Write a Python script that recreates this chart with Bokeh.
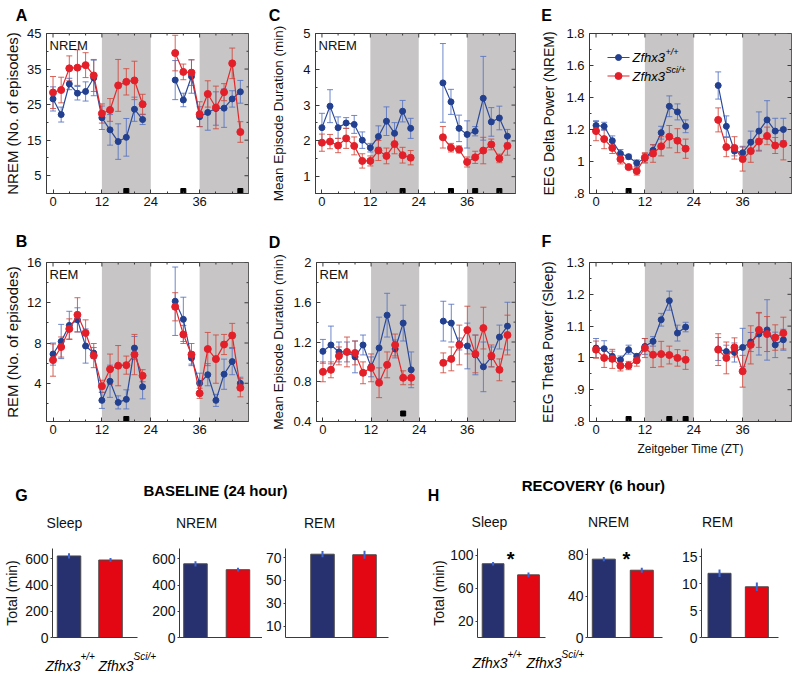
import math
from bokeh.plotting import figure
from bokeh.models import (Range1d, BoxAnnotation, Whisker, TeeHead,
                          ColumnDataSource, Label, FixedTicker)
from bokeh.layouts import row, column
from bokeh.embed import file_html
from bokeh.resources import INLINE

FONT = "Liberation Sans"
AXC = "#3a3a3a"
SHADE = "#c7c5c5"
BLUE_LINE = "#2c4a9a"; BLUE_MK = "#22408f"; BLUE_ERR = "#5673c2"
RED_LINE = "#e2282c"; RED_MK = "#e3202a"; RED_ERR = "#cf4a3e"
BAR_BLUE = "#28316f"; BAR_RED = "#e30613"; BAR_ERR = "#3d63cf"

# ---------------- data ----------------
zt = [0, 2, 4, 6, 8, 10, 12, 14, 16, 18, 20, 22, 30, 32, 34, 36, 38, 40, 42, 44, 46]
dark_start = [12, 36]
dark_end = [24, 48]
xticks = [0, 12, 24, 36]
xminor = [4, 8, 16, 20, 28, 32, 40, 44]

# A: NREM number of episodes
nrem_n_wt = [26.6, 22.2, 30.8, 28.2, 28.7, 32.5, 21.3, 17.9, 14.6, 15.8, 23.7, 20.8,
             31.9, 26.3, 32.9, 21.6, 22.8, 23.9, 24.0, 26.6, 28.6]
nrem_n_wt_err = [3.4, 2.1, 1.6, 1.9, 2.7, 5.0, 3.3, 4.3, 5.0, 5.3, 3.4, 1.4,
                 5.5, 1.9, 4.7, 2.8, 5.0, 4.7, 5.4, 2.3, 3.2]
nrem_n_sci = [28.4, 29.1, 35.2, 35.4, 36.1, 33.2, 22.5, 23.5, 30.4, 31.4, 31.8, 25.1,
              39.5, 34.2, 34.0, 22.3, 28.0, 24.2, 28.5, 36.6, 17.3]
nrem_n_sci_err = [4.5, 3.6, 3.5, 5.0, 3.5, 4.5, 2.7, 3.2, 7.3, 3.7, 5.4, 2.8,
                  5.0, 2.2, 3.6, 3.5, 3.7, 6.0, 2.4, 4.3, 2.9]
sig_a = [18, 32, 46]

# B: REM number of episodes
rem_n_wt = [6.9, 8.15, 9.75, 10.3, 7.7, 7.0, 2.3, 4.2, 2.1, 2.4, 7.5, 3.65,
            12.15, 10.35, 6.5, 4.0, 4.85, 2.3, 4.9, 6.15, 4.0]
rem_n_wt_err = [1.1, 1.7, 1.4, 1.2, 1.7, 0.55, 0.8, 1.6, 0.65, 0.95, 1.15, 1.2,
                3.4, 2.2, 0.6, 1.0, 1.1, 0.6, 1.5, 1.3, 0.6]
rem_n_sci = [6.3, 7.6, 9.4, 10.8, 9.0, 6.75, 3.7, 5.4, 5.75, 5.8, 6.85, 4.75,
             11.6, 8.85, 6.85, 3.0, 7.4, 6.4, 7.85, 8.75, 3.55]
rem_n_sci_err = [1.6, 1.0, 1.0, 1.7, 1.3, 1.2, 0.6, 1.5, 2.0, 0.9, 2.0, 0.6,
                 1.4, 0.9, 1.1, 0.5, 1.65, 2.4, 1.0, 1.2, 0.9]
sig_b = [18]

# C: NREM mean episode duration (min)
nrem_d_wt = [2.37, 2.97, 2.37, 2.5, 2.46, 2.02, 1.81, 2.12, 2.55, 2.21, 2.83, 2.35,
             3.62, 3.09, 2.35, 2.18, 2.27, 3.19, 2.53, 2.64, 2.13]
nrem_d_wt_err = [0.4, 0.46, 0.3, 0.15, 0.25, 0.23, 0.12, 0.3, 0.4, 0.3, 0.3, 0.28,
                 1.1, 0.35, 0.37, 0.38, 0.13, 1.17, 0.4, 0.33, 0.19]
nrem_d_sci = [1.95, 1.98, 1.87, 2.07, 1.86, 1.44, 1.44, 1.73, 1.58, 1.91, 1.6, 1.53,
              2.1, 1.81, 1.76, 1.41, 1.54, 1.73, 1.9, 1.51, 1.86]
nrem_d_sci_err = [0.24, 0.2, 0.2, 0.28, 0.25, 0.2, 0.14, 0.28, 0.22, 0.27, 0.22, 0.2,
                  0.3, 0.12, 0.1, 0.14, 0.17, 0.37, 0.15, 0.12, 0.26]
sig_c = [20, 32, 38, 44]

# D: REM mean episode duration (min)
rem_d_wt = [1.106, 1.17, 1.1, 1.1, 1.05, 1.17, 0.95, 1.14, 1.47, 1.13, 1.39, 0.92,
            1.41, 1.39, 1.18, 1.16, 1.07, 0.95, 1.05, 1.25, 1.36]
rem_d_wt_err = [0.12, 0.19, 0.1, 0.1, 0.16, 0.1, 0.1, 0.31, 0.22, 0.09, 0.18, 0.18,
                0.2, 0.19, 0.06, 0.23, 0.2, 0.25, 0.1, 0.12, 0.24]
rem_d_sci = [0.9, 0.92, 1.06, 1.1, 1.09, 0.89, 0.94, 0.79, 0.97, 1.17, 0.84, 0.84,
             0.99, 1.03, 1.17, 1.32, 1.08, 1.34, 1.06, 0.92, 1.27]
rem_d_sci_err = [0.1, 0.08, 0.09, 0.15, 0.12, 0.11, 0.14, 0.15, 0.13, 0.11, 0.07, 0.07,
                 0.1, 0.12, 0.2, 0.24, 0.19, 0.21, 0.11, 0.11, 0.2]
sig_d = [20]

# E: EEG delta power (NREM)
delta_wt = [1.225, 1.22, 1.13, 1.05, 1.03, 0.99, 1.02, 1.07, 1.18, 1.345, 1.31, 1.22,
            1.475, 1.22, 1.065, 1.055, 1.12, 1.19, 1.26, 1.19, 1.2]
delta_wt_err = [0.03, 0.025, 0.03, 0.025, 0.015, 0.02, 0.03, 0.035, 0.04, 0.065, 0.05, 0.04,
                0.085, 0.065, 0.03, 0.04, 0.07, 0.12, 0.12, 0.08, 0.07]
delta_sci = [1.19, 1.14, 1.085, 1.015, 0.965, 0.94, 1.025, 1.05, 1.095, 1.155, 1.13, 1.08,
             1.26, 1.09, 1.085, 1.015, 1.065, 1.125, 1.16, 1.1, 1.11]
delta_sci_err = [0.06, 0.06, 0.035, 0.03, 0.01, 0.025, 0.03, 0.055, 0.06, 0.07, 0.075, 0.06,
                 0.075, 0.06, 0.07, 0.075, 0.07, 0.06, 0.055, 0.05, 0.1]
sig_e = [8]

# F: EEG theta power (sleep)
theta_wt = [1.031, 1.029, 1.005, 0.994, 1.026, 1.005, 1.036, 1.052, 1.12, 1.18, 1.078, 1.097,
            1.028, 1.02, 1.017, 1.033, 1.05, 1.075, 1.088, 1.041, 1.057]
theta_wt_err = [0.03, 0.025, 0.016, 0.012, 0.014, 0.008, 0.025, 0.015, 0.02, 0.03, 0.025, 0.015,
                0.036, 0.02, 0.03, 0.06, 0.03, 0.066, 0.095, 0.04, 0.033]
theta_sci = [1.026, 1.0, 0.997, 0.975, 0.976, 0.992, 1.031, 1.01, 1.012, 1.009, 1.0, 0.994,
             1.026, 1.0, 1.033, 0.958, 1.041, 1.088, 1.075, 1.064, 1.078]
theta_sci_err = [0.027, 0.03, 0.03, 0.016, 0.013, 0.018, 0.03, 0.04, 0.04, 0.028, 0.026, 0.03,
                 0.05, 0.05, 0.03, 0.05, 0.06, 0.055, 0.055, 0.04, 0.05]
sig_f = [8, 18, 22]

# G / H totals (min): [Zfhx3+/+, Zfhx3Sci/+]
genotypes = ["Zfhx3+/+", "Zfhx3Sci/+"]
base_sleep = [623, 592]; base_sleep_err = [20, 15]
base_nrem = [563, 518]; base_nrem_err = [20, 14]
base_rem = [73, 72.5]; base_rem_err = [2.7, 3.5]
rec_sleep = [89.5, 76]; rec_sleep_err = [2, 3]
rec_nrem = [75.7, 65]; rec_nrem_err = [2, 2.5]
rec_rem = [11.9, 9.4]; rec_rem_err = [0.7, 0.8]

# ---------------- helpers ----------------
XMIN, XMAX = -1.6, 48.0
TOTAL_W = 800


def add_label(p, x, y, text, size, **kw):
    kw.setdefault("text_color", "#111111")
    p.add_layout(Label(x=x, y=y, text=text, text_font=FONT,
                       text_font_size=size, **kw))


def style_axis(ax, size="13px", tin=4, tout=0, minin=2, standoff=4):
    ax.axis_line_color = AXC
    ax.major_tick_line_color = AXC
    ax.minor_tick_line_color = AXC
    ax.major_tick_in = tin
    ax.major_tick_out = tout
    ax.minor_tick_in = minin
    ax.minor_tick_out = 0
    ax.major_label_text_font = FONT
    ax.major_label_text_font_size = size
    ax.major_label_text_color = "#111111"
    ax.major_label_standoff = standoff
    ax.axis_label_text_font = FONT
    ax.axis_label_text_font_style = "normal"
    ax.axis_label_text_color = "#111111"


def runs(x, y):
    xs, ys = [[x[0]]], [[y[0]]]
    for i in range(1, len(x)):
        if x[i] - x[i - 1] > 2:
            xs.append([]); ys.append([])
        xs[-1].append(x[i]); ys[-1].append(y[i])
    return xs, ys


def ts_panel(width, height, bl, br, bt, bb, yr, yticks, ylabels, yminor,
             wt, wt_e, sci, sci_e, sig, sig_px, ytitle, ytitle_standoff,
             ytitle_size="15px", inner=None):
    fh = height - bt - bb
    fw = width - bl - br
    xpp = (XMAX - XMIN) / fw
    ypp = (yr[1] - yr[0]) / fh
    p = figure(width=width, height=height, x_range=Range1d(XMIN, XMAX),
               y_range=Range1d(*yr), min_border_left=bl, min_border_right=br,
               min_border_top=bt, min_border_bottom=bb,
               output_backend="svg", toolbar_location=None)
    p.grid.visible = False
    p.outline_line_color = AXC
    p.outline_line_width = 1
    for s, e in zip(dark_start, dark_end):
        p.add_layout(BoxAnnotation(left=s, right=e, fill_color=SHADE, fill_alpha=1.0,
                                   line_color=None, level="underlay"))
    p.xaxis.ticker = FixedTicker(ticks=xticks, minor_ticks=xminor)
    p.yaxis.ticker = FixedTicker(ticks=yticks, minor_ticks=yminor)
    p.yaxis.major_label_overrides = {t: l for t, l in zip(yticks, ylabels)}
    style_axis(p.xaxis[0], standoff=3)
    style_axis(p.yaxis[0], standoff=5)
    p.yaxis.axis_label = ytitle
    p.yaxis.axis_label_text_font_size = ytitle_size
    p.yaxis.axis_label_standoff = ytitle_standoff

    # tick marks mirrored on the right and top edges of the box
    for ticks, ln in [(yticks, 4), (yminor, 2)]:
        if ticks:
            p.segment(x0=[XMAX - ln * xpp] * len(ticks), y0=ticks,
                      x1=[XMAX] * len(ticks), y1=ticks, line_color=AXC, line_width=1)
    for ticks, ln in [(xticks, 4), (xminor, 2)]:
        p.segment(x0=ticks, y0=[yr[1] - ln * ypp] * len(ticks),
                  x1=ticks, y1=[yr[1]] * len(ticks), line_color=AXC, line_width=1)

    for vals, errs, lc, mc, ec, ms in [(wt, wt_e, BLUE_LINE, BLUE_MK, BLUE_ERR, 6),
                                       (sci, sci_e, RED_LINE, RED_MK, RED_ERR, 7)]:
        src = ColumnDataSource(dict(x=zt, lo=[v - e for v, e in zip(vals, errs)],
                                    hi=[v + e for v, e in zip(vals, errs)]))
        p.add_layout(Whisker(source=src, base="x", lower="lo", upper="hi",
                             line_color=ec, line_alpha=0.85, line_width=1,
                             upper_head=TeeHead(size=6, line_color=ec, line_alpha=0.85, line_width=1),
                             lower_head=TeeHead(size=6, line_color=ec, line_alpha=0.85, line_width=1)))
        xs, ys = runs(zt, vals)
        p.multi_line(xs, ys, line_color=lc, line_width=1.2)
        p.scatter(zt, vals, size=ms, fill_color=mc, line_color=mc)

    ybase = yr[0] + sig_px * ypp
    p.scatter(sig, [ybase] * len(sig), marker="square", size=5,
              fill_color="black", line_color="black")
    if inner:
        add_label(p, XMIN, yr[1], inner, "13px", text_align="left",
                  text_baseline="top", x_offset=3, y_offset=-4)
    return p, fh


def strip(width, height):
    p = figure(width=width, height=height, x_range=Range1d(0, width),
               y_range=Range1d(height, 0), min_border=0,
               x_axis_location=None, y_axis_location=None,
               output_backend="svg", toolbar_location=None)
    p.grid.visible = False
    p.outline_line_color = None
    return p


def letter(p, x, y, t):
    add_label(p, x, y, t, "16px", text_font_style="bold", text_align="center",
              text_baseline="middle", text_color="black")


# ---------------- row 1 ----------------
R1_H, R2_H = 207, 218
top_strip = strip(TOTAL_W, 23)
letter(top_strip, 21, 14.5, "A")
letter(top_strip, 274, 14.5, "C")
letter(top_strip, 546, 14.5, "E")

pA, _ = ts_panel(268, R1_H, 46, 20, 10, 37, (0, 45), [5, 15, 25, 35, 45],
                 ["5", "15", "25", "35", "45"], [10, 20, 30, 40],
                 nrem_n_wt, nrem_n_wt_err, nrem_n_sci, nrem_n_sci_err, sig_a, 2.5,
                 "NREM (No. of episodes)", 3, inner="NREM")
pC, _ = ts_panel(267, R1_H, 45, 20, 10, 37, (0.53, 5), [1, 2, 3, 4, 5],
                 ["1", "2", "3", "4", "5"], [1.5, 2.5, 3.5, 4.5],
                 nrem_d_wt, nrem_d_wt_err, nrem_d_sci, nrem_d_sci_err, sig_c, 2.5,
                 "Mean Episode Duration (min)", 14, ytitle_size="13.5px", inner="NREM")
pE, fhE = ts_panel(265, R1_H, 54, 9, 10, 37, (0.8, 1.8), [0.8, 1, 1.2, 1.4, 1.6, 1.8],
                   [".8", "1", "1.2", "1.4", "1.6", "1.8"], [0.9, 1.1, 1.3, 1.5, 1.7],
                   delta_wt, delta_wt_err, delta_sci, delta_sci_err, sig_e, 2.5,
                   "EEG Delta Power (NREM)", 6, ytitle_size="14px")

# legend for E (drawn by hand so the genotype superscripts can be set)
fwE = 265 - 54 - 9
lxpp = (XMAX - XMIN) / fwE
lypp = (1.8 - 0.8) / fhE
for lc, mc, ms, sup, dy in [(BLUE_LINE, BLUE_MK, 6, "+/+", 24),
                            (RED_LINE, RED_MK, 7, "Sci/+", 42.5)]:
    yy = 1.8 - dy * lypp
    pE.line([XMIN + 18 * lxpp, XMIN + 40 * lxpp], [yy, yy], line_color=lc, line_width=1.2)
    pE.scatter([XMIN + 29 * lxpp], [yy], size=ms, fill_color=mc, line_color=mc)
    add_label(pE, XMIN + 43 * lxpp, yy, "Zfhx3", "13px", text_font_style="italic",
              text_baseline="middle", text_color="black")
    add_label(pE, XMIN + 43 * lxpp, yy, sup, "9px", text_font_style="italic",
              text_baseline="middle", x_offset=33, y_offset=6, text_color="black")

# ---------------- row 2 ----------------
mid_strip = strip(TOTAL_W, 22)
letter(mid_strip, 21, 11, "B")
letter(mid_strip, 274, 11.5, "D")
letter(mid_strip, 546, 11, "F")

pB, _ = ts_panel(268, R2_H, 46, 20, 10, 49, (0.2, 16), [4, 8, 12, 16],
                 ["4", "8", "12", "16"], [2, 6, 10, 14],
                 rem_n_wt, rem_n_wt_err, rem_n_sci, rem_n_sci_err, sig_b, 2.5,
                 "REM (No. of episodes)", 3, inner="REM")
pD, _ = ts_panel(267, R2_H, 45, 20, 10, 49, (0.4, 2.0), [0.4, 0.8, 1.2, 1.6, 2.0],
                 ["0.4", "0.8", "1.2", "1.6", "2"], [0.6, 1.0, 1.4, 1.8],
                 rem_d_wt, rem_d_wt_err, rem_d_sci, rem_d_sci_err, sig_d, 8,
                 "Mean Episode Duration (min)", 4, ytitle_size="13.5px", inner="REM")
pF, _ = ts_panel(265, R2_H, 54, 9, 10, 49, (0.8, 1.3), [0.8, 0.9, 1.0, 1.1, 1.2, 1.3],
                 [".8", ".9", "1", "1.1", "1.2", "1.3"], [0.85, 0.95, 1.05, 1.15, 1.25],
                 theta_wt, theta_wt_err, theta_sci, theta_sci_err, sig_f, 2.5,
                 "EEG Theta Power (Sleep)", 7, ytitle_size="14px")
pF.xaxis[0].axis_label = "Zeitgeber Time (ZT)"
pF.xaxis[0].axis_label_text_font_size = "12px"
pF.xaxis[0].axis_label_standoff = 5

# ---------------- bottom: titles ----------------
title_strip = strip(TOTAL_W, 70)
letter(title_strip, 21, 25, "G")
letter(title_strip, 433, 25, "H")
add_label(title_strip, 215, 20, "BASELINE (24 hour)", "15px", text_font_style="bold",
          text_align="center", text_baseline="middle", text_color="black")
add_label(title_strip, 593, 15, "RECOVERY (6 hour)", "15px", text_font_style="bold",
          text_align="center", text_baseline="middle", text_color="black")
for xx, yy, t in [(64, 52.5, "Sleep"), (196, 52.5, "NREM"), (319, 52.5, "REM"),
                  (489, 51.5, "Sleep"), (608, 51.5, "NREM"), (717, 51.5, "REM")]:
    add_label(title_strip, xx, yy, t, "14px", text_align="center", text_baseline="middle")

BT, BB = 8, 10
BAR_H = BT + 89 + BB


def bar_panel(width, bl, br, xr, yr, yticks, vals, errs, bar_px,
              star_px=None, ytitle_standoff=None):
    fw = width - bl - br
    p = figure(width=width, height=BAR_H, x_range=Range1d(*xr), y_range=Range1d(*yr),
               min_border_left=bl, min_border_right=br, min_border_top=BT,
               min_border_bottom=BB, output_backend="svg", toolbar_location=None)
    p.grid.visible = False
    p.outline_line_color = None
    xpos = [i + 1 for i in range(len(genotypes))]
    bw = bar_px * (xr[1] - xr[0]) / fw
    p.vbar(x=xpos, top=vals, bottom=yr[0], width=bw,
           fill_color=[BAR_BLUE, BAR_RED], line_color="#4a4a4a", line_width=1)
    p.segment(x0=xpos, y0=[v - e for v, e in zip(vals, errs)],
              x1=xpos, y1=[v + e for v, e in zip(vals, errs)],
              line_color=BAR_ERR, line_width=2)
    p.yaxis.ticker = FixedTicker(ticks=yticks, minor_ticks=[])
    style_axis(p.yaxis[0], size="14px", tin=0, tout=2, minin=0, standoff=2)
    p.xaxis.ticker = FixedTicker(ticks=[], minor_ticks=[])
    style_axis(p.xaxis[0], size="0px", tin=0, tout=0, minin=0, standoff=0)
    p.xaxis.major_tick_line_color = None
    p.xaxis.minor_tick_line_color = None
    if star_px is not None:
        add_label(p, xr[0] + star_px * (xr[1] - xr[0]) / fw, yr[1], "*", "20px",
                  text_font_style="bold", text_align="center",
                  text_baseline="alphabetic", y_offset=-10, text_color="black")
    if ytitle_standoff is not None:
        p.yaxis.axis_label = "Total (min)"
        p.yaxis.axis_label_text_font_size = "14px"
        p.yaxis.axis_label_standoff = ytitle_standoff
    return p


g1 = bar_panel(143, 52, 6, (0.602, 2.65), (0, 680), [0, 200, 400, 600],
               base_sleep, base_sleep_err, 23.5, ytitle_standoff=2)
g2 = bar_panel(119, 36, 0, (0.624, 2.577), (0, 680), [0, 200, 400, 600],
               base_nrem, base_nrem_err, 23.5)
g3 = bar_panel(166, 23, 40, (0.119, 2.571), (0, 78), [10, 30, 50, 70],
               base_rem, base_rem_err, 23.5)
h1 = bar_panel(130, 45, 13, (0.56, 2.48), (0, 108), [20, 60, 100],
               rec_sleep, rec_sleep_err, 23, star_px=35, ytitle_standoff=0)
h2 = bar_panel(115, 29, 11, (0.571, 2.545), (0, 86), [0, 40, 80],
               rec_nrem, rec_nrem_err, 23, star_px=39)
h3 = bar_panel(127, 28, 22, (0.517, 2.58), (0, 16.5), [0, 5, 10, 15],
               rec_rem, rec_rem_err, 23)

# ---------------- bottom: genotype labels ----------------
geno_strip = strip(TOTAL_W, 27)
geno_pos = [(45, 18, 9, 0), (98, 18, 9, 1), (472, 15, 7, 0), (526, 15, 7, 1)]
for x0, by, sy, gi in geno_pos:
    name = genotypes[gi]
    stem, sup = name[:5], name[5:]
    add_label(geno_strip, x0, by, stem, "14px", text_font_style="italic",
              text_baseline="alphabetic", text_color="black")
    add_label(geno_strip, x0 + 35, sy, sup, "10px", text_font_style="italic",
              text_baseline="alphabetic", text_color="black")

layout = column(top_strip, row(pA, pC, pE), mid_strip, row(pB, pD, pF),
                title_strip, row(g1, g2, g3, h1, h2, h3), geno_strip)

open("out.html", "w").write(file_html(layout, INLINE))
